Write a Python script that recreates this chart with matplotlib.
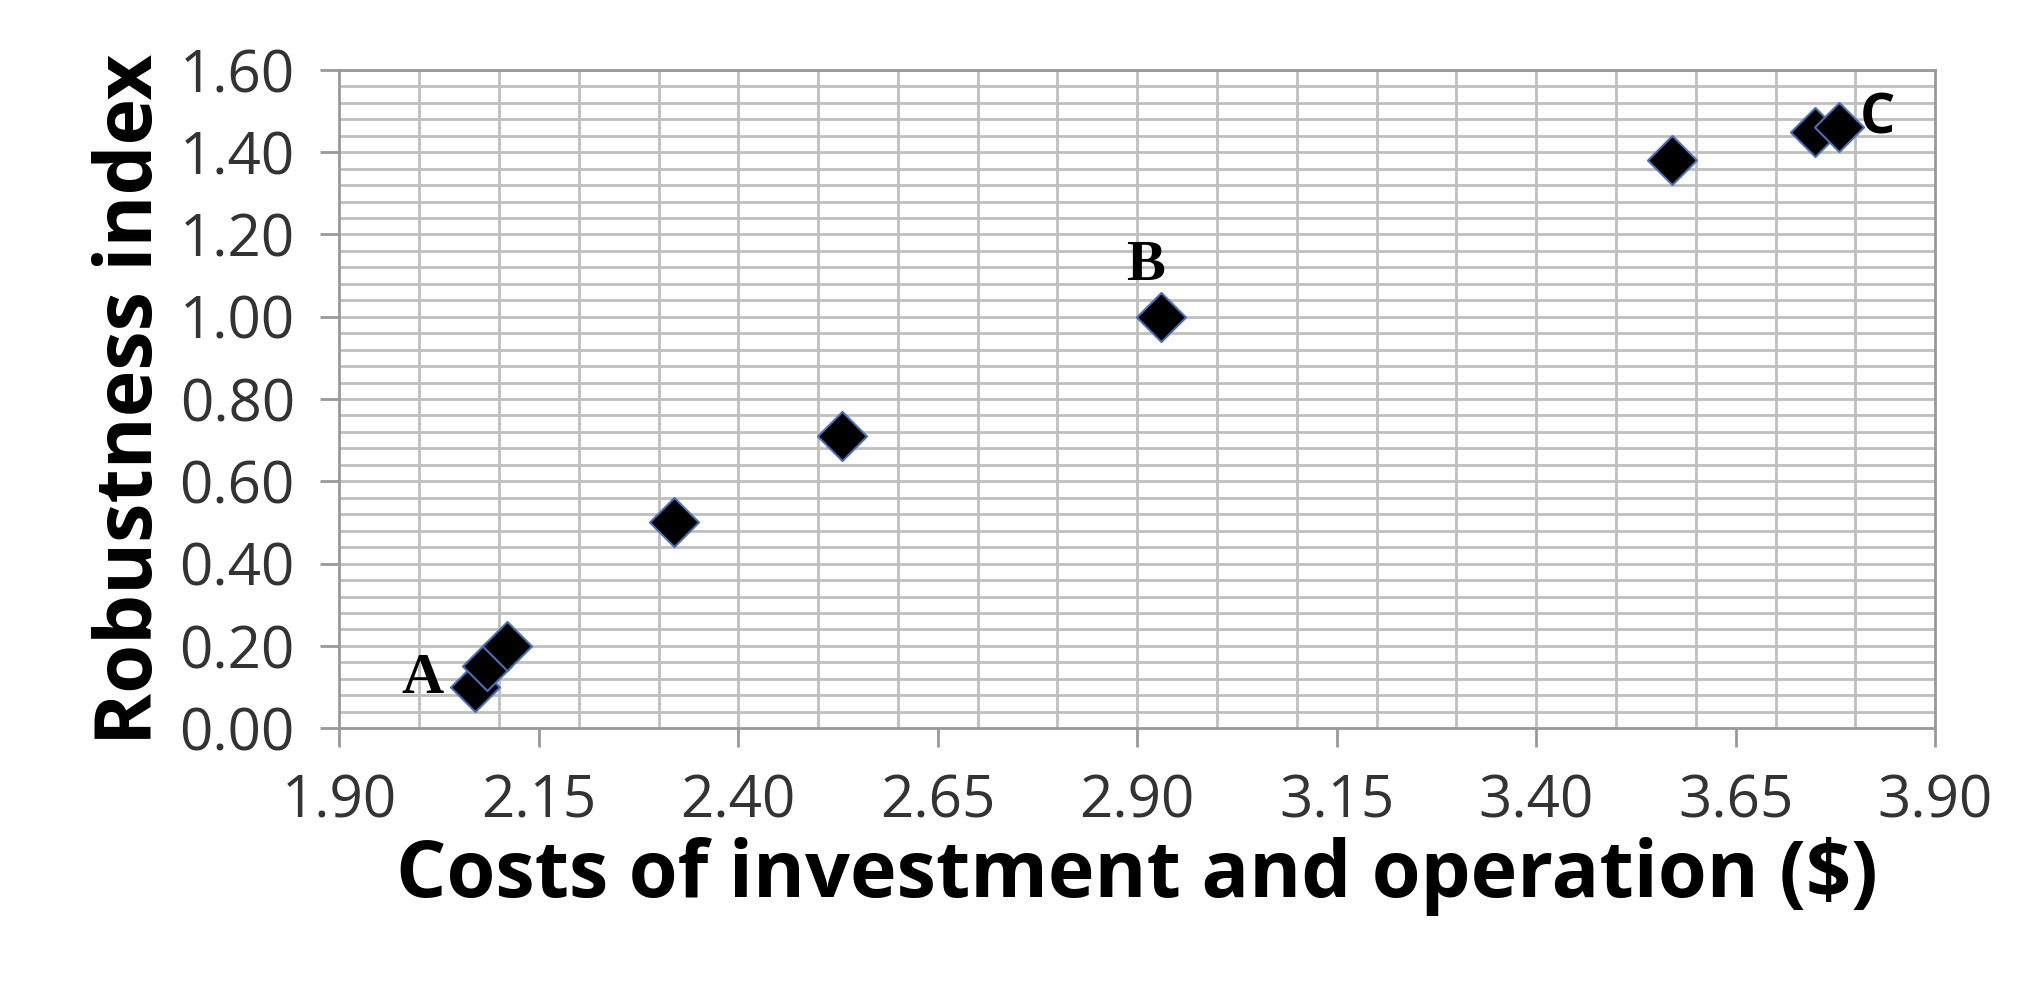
import matplotlib.pyplot as plt
import numpy as np

cost = [2.07, 2.085, 2.11, 2.32, 2.53, 2.93, 3.57, 3.75, 3.78]
robust = [0.10, 0.15, 0.20, 0.50, 0.71, 1.00, 1.38, 1.45, 1.46]
x_ticks = [1.90, 2.15, 2.40, 2.65, 2.90, 3.15, 3.40, 3.65, 3.90]
y_ticks = [0.00, 0.20, 0.40, 0.60, 0.80, 1.00, 1.20, 1.40, 1.60]

fig = plt.figure(figsize=(20.2, 9.84), dpi=100)
ax = fig.add_axes([0.168, 0.26, 0.79, 0.669])

# grid: vertical every 0.1, horizontal every 0.04
for gx in np.arange(2.0, 3.85, 0.1):
    ax.axvline(gx, color='#bfbfbf', lw=2, zorder=0)
for gy in np.arange(0.04, 1.61, 0.04):
    ax.axhline(gy, color='#bfbfbf', lw=2, zorder=0)

ax.scatter(cost, robust, marker='D', s=25**2, color='black',
           edgecolors='#4a6fb5', linewidths=1.5, zorder=3)

ax.text(2.03, 0.12, 'A', family='Liberation Serif', fontweight='bold',
        fontsize=42, ha='right', va='center')
ax.text(2.91, 1.06, 'B', family='Liberation Serif', fontweight='bold',
        fontsize=42, ha='center', va='bottom')
ax.text(3.805, 1.48, 'C', family='Open Sans', fontweight='bold',
        fontsize=40, ha='left', va='center')

ax.set_xlim(1.90, 3.90)
ax.set_ylim(0, 1.60)
ax.set_xticks(x_ticks)
ax.set_yticks(y_ticks)
ax.set_xticklabels(['%.2f' % v for v in x_ticks])
ax.set_yticklabels(['%.2f' % v for v in y_ticks])
ax.tick_params(labelsize=42, length=14, width=2, color='#999999', direction='out', pad=18)
for sp in ax.spines.values():
    sp.set_color('#999999')
    sp.set_linewidth(2)
for lab in ax.get_xticklabels() + ax.get_yticklabels():
    lab.set_family('Open Sans')
    lab.set_color('#333333')

ax.set_xlabel('Costs of investment and operation ($)', family='Open Sans',
              fontweight='bold', fontsize=57, labelpad=4)
ax.set_ylabel('Robustness index', family='Open Sans', fontweight='bold',
              fontsize=57, labelpad=6)

fig.savefig('out.png', dpi=100)
